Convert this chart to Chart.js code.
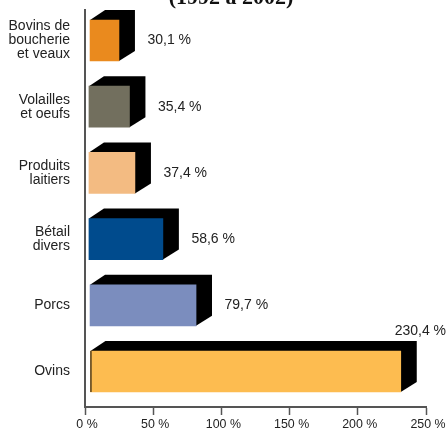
<!DOCTYPE html>
<html>
<head>
<meta charset="utf-8">
<style>
  html, body { margin: 0; padding: 0; background: #fff; }
  canvas { display: block; }
</style>
<script src="https://cdn.jsdelivr.net/npm/chart.js@4"></script>
</head>
<body>
<canvas id="chart" width="447" height="429"></canvas>
<script>
const categories = [
  ["Bovins de", "boucherie", "et veaux"],
  ["Volailles", "et oeufs"],
  ["Produits", "laitiers"],
  ["Bétail", "divers"],
  ["Porcs"],
  ["Ovins"]
];
const valueLabels = ["30,1 %", "35,4 %", "37,4 %", "58,6 %", "79,7 %", "230,4 %"];
// front face of each bar, in % on the axis
const barStart = [3.7, 2.9, 2.9, 2.9, 3.7, 4.0];
const barEnd = [24.9, 32.6, 36.6, 57.1, 81.4, 231.5];
const barColors = ["#ea8a1e", "#726f5e", "#f3bb82", "#004b8d", "#7b8dbe", "#fdbc50"];
const xTicks = [0, 50, 100, 150, 200, 250];
const titleText = "(1992 à 2002)";

const depthX = 16;
const depthY = 10;
const textFont = "14px 'Liberation Sans', Arial, sans-serif";

// black side and top of the 3D bars, behind the front face
const depthPlugin = {
  id: "depth",
  beforeDatasetsDraw(chart) {
    const ctx = chart.ctx;
    chart.getDatasetMeta(0).data.forEach((bar, i) => {
      const left = Math.min(bar.x, bar.base);
      const right = Math.max(bar.x, bar.base);
      const top = bar.y - bar.height / 2;
      const bottom = bar.y + bar.height / 2;
      ctx.fillStyle = "#000";
      ctx.beginPath();
      ctx.moveTo(left, top);
      ctx.lineTo(left + depthX - 1, top - depthY);
      ctx.lineTo(right + depthX, top - depthY);
      ctx.lineTo(right + depthX, bottom - depthY);
      ctx.lineTo(right, bottom);
      ctx.closePath();
      ctx.fill();
    });
  }
};

// value labels, cropped title and the dark edge on the longest bar
const labelPlugin = {
  id: "labels",
  afterDatasetsDraw(chart) {
    const ctx = chart.ctx;
    ctx.save();
    ctx.fillStyle = "#222";
    ctx.font = textFont;
    ctx.textBaseline = "middle";
    chart.getDatasetMeta(0).data.forEach((bar, i) => {
      const right = Math.max(bar.x, bar.base);
      const top = bar.y - bar.height / 2;
      const x = right + depthX + 12.5;
      if (x + 45 > chart.width) {
        ctx.textAlign = "right";
        ctx.fillText(valueLabels[i], chart.width - 1, top - depthY - 10);
        ctx.fillStyle = "#000";
        ctx.fillRect(Math.min(bar.x, bar.base), top, 1, bar.height);
        ctx.fillStyle = "#222";
      } else {
        ctx.textAlign = "left";
        ctx.fillText(valueLabels[i], x, bar.y);
      }
    });
    ctx.fillStyle = "#111";
    ctx.font = "bold 22px 'Liberation Serif', 'Times New Roman', serif";
    ctx.textAlign = "center";
    ctx.textBaseline = "alphabetic";
    ctx.fillText(titleText, 231, 4);
    ctx.restore();
  }
};

new Chart(document.getElementById("chart"), {
  type: "bar",
  data: {
    datasets: [{
      data: barStart.map((s, i) => ({ x: [s, barEnd[i]], y: i })),
      backgroundColor: barColors,
      borderWidth: 0,
      barThickness: 41,
      grouped: false
    }]
  },
  options: {
    indexAxis: "y",
    responsive: false,
    animation: false,
    events: [],
    layout: { padding: { left: 0, right: 21, top: 10, bottom: 0 } },
    plugins: { legend: { display: false }, tooltip: { enabled: false } },
    scales: {
      x: {
        type: "linear",
        position: "bottom",
        min: 0,
        max: 250,
        afterBuildTicks(scale) { scale.ticks = xTicks.map(v => ({ value: v })); },
        afterFit(scale) {
          scale.height = 22;
          scale.paddingLeft = 0;
          scale.paddingRight = 0;
        },
        grid: { display: true, drawOnChartArea: false, drawTicks: true, tickLength: 8, tickColor: "#555", tickWidth: 1.5 },
        border: { display: true, color: "#555", width: 2 },
        ticks: {
          color: "#222",
          font: { family: "'Liberation Sans', Arial, sans-serif", size: 12.4 },
          padding: 2,
          labelOffset: 2,
          maxRotation: 0,
          callback: v => v + " %"
        }
      },
      y: {
        type: "linear",
        reverse: true,
        offset: false,
        bounds: "data",
        min: -0.46,
        max: 5.536,
        afterBuildTicks(scale) { scale.ticks = categories.map((c, i) => ({ value: i })); },
        afterFit(scale) {
          scale.width = 85;
          scale.paddingTop = 0;
          scale.paddingBottom = 0;
        },
        grid: { display: false, drawTicks: false },
        border: { display: true, color: "#555", width: 2 },
        ticks: {
          color: "#222",
          font: { family: "'Liberation Sans', Arial, sans-serif", size: 14, lineHeight: 1 },
          padding: 15,
          autoSkip: false,
          callback: v => categories[v]
        }
      }
    }
  },
  plugins: [depthPlugin, labelPlugin]
});
</script>
</body>
</html>
